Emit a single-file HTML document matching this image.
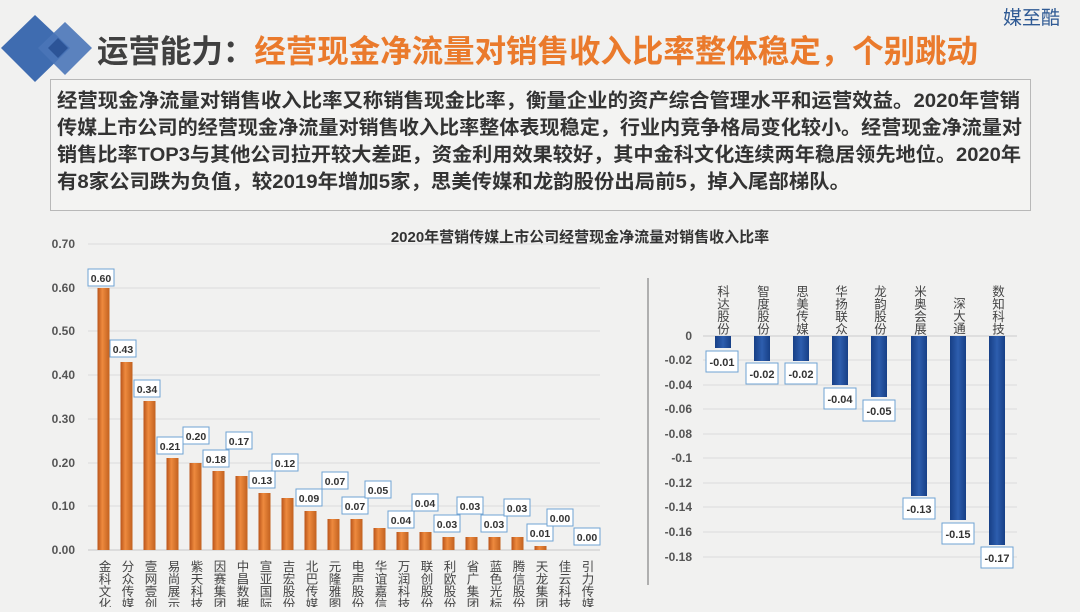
<!DOCTYPE html>
<html><head><meta charset="utf-8">
<style>
html,body{margin:0;padding:0;}
body{width:1080px;height:607px;overflow:hidden;background:#f1f1f0;font-family:"Liberation Sans","Noto Sans CJK SC",sans-serif;}
svg text{font-family:"Liberation Sans","Noto Sans CJK SC",sans-serif;}
.v{writing-mode:vertical-rl;}
</style></head><body>
<svg width="1080" height="607" viewBox="0 0 1080 607" xmlns="http://www.w3.org/2000/svg">
<defs>
<linearGradient id="og" x1="0" x2="1" y1="0" y2="0"><stop offset="0" stop-color="#b9541a"/><stop offset="0.4" stop-color="#ee8a3e"/><stop offset="1" stop-color="#c2611f"/></linearGradient>
<linearGradient id="bg" x1="0" x2="1" y1="0" y2="0"><stop offset="0" stop-color="#173f86"/><stop offset="0.5" stop-color="#2d5eae"/><stop offset="1" stop-color="#173f86"/></linearGradient>
</defs>
<rect width="1080" height="607" fill="#f1f1f0"/>
<polygon points="35,15 70,48 35,82 1,48" fill="#3f6cb0"/>
<polygon points="65,22 92,48 65,75 38,48" fill="#4a76b8" opacity="0.9"/>
<polygon points="58,38 68,48 58,58 48,48" fill="#2c5497"/>
<text x="97" y="62" font-size="31.5" font-weight="bold" fill="#404040" textLength="881" lengthAdjust="spacingAndGlyphs">运营能力：<tspan fill="#ea7a2c">经营现金净流量对销售收入比率整体稳定，个别跳动</tspan></text>
<text x="1003" y="24" font-size="19" fill="#2f5a94">媒至酷</text>
<rect x="50.5" y="79.5" width="980" height="131" fill="#f3f3f2" stroke="#b8b8b8"/>
<g font-size="19.5" font-weight="bold" fill="#333">
<text x="57" y="107" textLength="963" lengthAdjust="spacingAndGlyphs">经营现金净流量对销售收入比率又称销售现金比率，衡量企业的资产综合管理水平和运营效益。2020年营销</text>
<text x="57" y="134" textLength="965" lengthAdjust="spacingAndGlyphs">传媒上市公司的经营现金净流量对销售收入比率整体表现稳定，行业内竞争格局变化较小。经营现金净流量对</text>
<text x="57" y="161" textLength="964" lengthAdjust="spacingAndGlyphs">销售比率TOP3与其他公司拉开较大差距，资金利用效果较好，其中金科文化连续两年稳居领先地位。2020年</text>
<text x="57" y="188" textLength="793" lengthAdjust="spacingAndGlyphs">有8家公司跌为负值，较2019年增加5家，思美传媒和龙韵股份出局前5，掉入尾部梯队。</text>
</g>
<text x="580" y="242" font-size="15" font-weight="bold" fill="#333" text-anchor="middle">2020年营销传媒上市公司经营现金净流量对销售收入比率</text>
<g stroke="#dcdcdc" stroke-width="1">
<line x1="88" x2="600" y1="244" y2="244"/><line x1="88" x2="600" y1="288" y2="288"/><line x1="88" x2="600" y1="331" y2="331"/><line x1="88" x2="600" y1="375" y2="375"/><line x1="88" x2="600" y1="419" y2="419"/><line x1="88" x2="600" y1="463" y2="463"/><line x1="88" x2="600" y1="506" y2="506"/>
</g>
<line x1="88" x2="600" y1="550" y2="550" stroke="#c8c8c8"/>
<g font-size="12" font-weight="bold" fill="#555" text-anchor="end">
<text x="75" y="248">0.70</text><text x="75" y="292">0.60</text><text x="75" y="335">0.50</text><text x="75" y="379">0.40</text><text x="75" y="423">0.30</text><text x="75" y="467">0.20</text><text x="75" y="510">0.10</text><text x="75" y="554">0.00</text>
</g>
<g fill="url(#og)">
<rect x="97.5" y="288" width="12" height="262"/>
<rect x="120.5" y="362" width="12" height="188"/>
<rect x="143.5" y="401" width="12" height="149"/>
<rect x="166.5" y="458" width="12" height="92"/>
<rect x="189.5" y="463" width="12" height="87"/>
<rect x="212.5" y="471" width="12" height="79"/>
<rect x="235.5" y="476" width="12" height="74"/>
<rect x="258.5" y="493" width="12" height="57"/>
<rect x="281.5" y="498" width="12" height="52"/>
<rect x="304.5" y="511" width="12" height="39"/>
<rect x="327.5" y="519" width="12" height="31"/>
<rect x="350.5" y="519" width="12" height="31"/>
<rect x="373.5" y="528" width="12" height="22"/>
<rect x="396.5" y="532" width="12" height="18"/>
<rect x="419.5" y="532" width="12" height="18"/>
<rect x="442.5" y="537" width="12" height="13"/>
<rect x="465.5" y="537" width="12" height="13"/>
<rect x="488.5" y="537" width="12" height="13"/>
<rect x="511.5" y="537" width="12" height="13"/>
<rect x="534.5" y="546" width="12" height="4"/>
</g>
<g font-size="10.5" font-weight="bold" fill="#333" text-anchor="middle">
<g stroke="#6fa3d3" fill="#fff"><rect x="88" y="269" width="26" height="17"/><rect x="110" y="340" width="26" height="17"/><rect x="134" y="380" width="26" height="17"/><rect x="157" y="437" width="26" height="17"/><rect x="183" y="427" width="26" height="17"/><rect x="203" y="450" width="26" height="17"/><rect x="226" y="432" width="26" height="17"/><rect x="249" y="471" width="26" height="17"/><rect x="272" y="454" width="26" height="17"/><rect x="296" y="489" width="26" height="17"/><rect x="322" y="472" width="26" height="17"/><rect x="342" y="497" width="26" height="17"/><rect x="365" y="481" width="26" height="17"/><rect x="388" y="511" width="26" height="17"/><rect x="412" y="494" width="26" height="17"/><rect x="434" y="515" width="26" height="17"/><rect x="457" y="497" width="26" height="17"/><rect x="481" y="515" width="26" height="17"/><rect x="504" y="499" width="26" height="17"/><rect x="527" y="524" width="26" height="17"/><rect x="547" y="509" width="26" height="17"/><rect x="574" y="528" width="26" height="17"/></g>
<text x="101" y="282">0.60</text><text x="123" y="353">0.43</text><text x="147" y="393">0.34</text><text x="170" y="450">0.21</text><text x="196" y="440">0.20</text><text x="216" y="463">0.18</text><text x="239" y="445">0.17</text><text x="262" y="484">0.13</text><text x="285" y="467">0.12</text><text x="309" y="502">0.09</text><text x="335" y="485">0.07</text><text x="355" y="510">0.07</text><text x="378" y="494">0.05</text><text x="401" y="524">0.04</text><text x="425" y="507">0.04</text><text x="447" y="528">0.03</text><text x="470" y="510">0.03</text><text x="494" y="528">0.03</text><text x="517" y="512">0.03</text><text x="540" y="537">0.01</text><text x="560" y="522">0.00</text><text x="587" y="541">0.00</text>
</g>
<g font-size="12.5" fill="#444">
<text class="v" x="103.5" y="560">金科文化</text><text class="v" x="126.5" y="560">分众传媒</text><text class="v" x="149.5" y="560">壹网壹创</text><text class="v" x="172.5" y="560">易尚展示</text><text class="v" x="195.5" y="560">紫天科技</text><text class="v" x="218.5" y="560">因赛集团</text><text class="v" x="241.5" y="560">中昌数据</text><text class="v" x="264.5" y="560">宣亚国际</text><text class="v" x="287.5" y="560">吉宏股份</text><text class="v" x="310.5" y="560">北巴传媒</text><text class="v" x="333.5" y="560">元隆雅图</text><text class="v" x="356.5" y="560">电声股份</text><text class="v" x="379.5" y="560">华谊嘉信</text><text class="v" x="402.5" y="560">万润科技</text><text class="v" x="425.5" y="560">联创股份</text><text class="v" x="448.5" y="560">利欧股份</text><text class="v" x="471.5" y="560">省广集团</text><text class="v" x="494.5" y="560">蓝色光标</text><text class="v" x="517.5" y="560">腾信股份</text><text class="v" x="540.5" y="560">天龙集团</text><text class="v" x="563.5" y="560">佳云科技</text><text class="v" x="586.5" y="560">引力传媒</text>
</g>
<line x1="648" x2="648" y1="278" y2="585" stroke="#999" stroke-width="1.5"/>
<g stroke="#dcdcdc"><line x1="703" x2="1017" y1="360" y2="360"/><line x1="703" x2="1017" y1="385" y2="385"/><line x1="703" x2="1017" y1="409" y2="409"/><line x1="703" x2="1017" y1="434" y2="434"/><line x1="703" x2="1017" y1="458" y2="458"/><line x1="703" x2="1017" y1="483" y2="483"/><line x1="703" x2="1017" y1="507" y2="507"/><line x1="703" x2="1017" y1="532" y2="532"/><line x1="703" x2="1017" y1="557" y2="557"/></g>
<line x1="703" x2="1017" y1="336" y2="336" stroke="#ccc"/>
<g font-size="12" font-weight="bold" fill="#555" text-anchor="end">
<text x="692" y="340">0</text><text x="692" y="364">-0.02</text><text x="692" y="389">-0.04</text><text x="692" y="413">-0.06</text><text x="692" y="438">-0.08</text><text x="692" y="462">-0.1</text><text x="692" y="487">-0.12</text><text x="692" y="511">-0.14</text><text x="692" y="536">-0.16</text><text x="692" y="561">-0.18</text>
</g>
<g fill="url(#bg)">
<rect x="715" y="336" width="16" height="12"/><rect x="754" y="336" width="16" height="25"/><rect x="793" y="336" width="16" height="25"/><rect x="832" y="336" width="16" height="49"/><rect x="871" y="336" width="16" height="61"/><rect x="911" y="336" width="16" height="160"/><rect x="950" y="336" width="16" height="184"/><rect x="989" y="336" width="16" height="209"/>
</g>
<g stroke="#6fa3d3" fill="#fff"><rect x="706" y="351" width="32" height="21"/><rect x="746" y="363" width="32" height="21"/><rect x="785" y="363" width="32" height="21"/><rect x="824" y="388" width="32" height="21"/><rect x="863" y="400" width="32" height="21"/><rect x="903" y="498" width="32" height="21"/><rect x="942" y="523" width="32" height="21"/><rect x="981" y="547" width="32" height="21"/></g>
<g font-size="11" font-weight="bold" fill="#333" text-anchor="middle">
<text x="722" y="366">-0.01</text><text x="762" y="378">-0.02</text><text x="801" y="378">-0.02</text><text x="840" y="403">-0.04</text><text x="879" y="415">-0.05</text><text x="919" y="513">-0.13</text><text x="958" y="538">-0.15</text><text x="997" y="562">-0.17</text>
</g>
<g font-size="12.5" fill="#444">
<text class="v" x="722" y="285">科达股份</text><text class="v" x="762" y="285">智度股份</text><text class="v" x="801" y="285">思美传媒</text><text class="v" x="840" y="285">华扬联众</text><text class="v" x="879" y="285">龙韵股份</text><text class="v" x="919" y="285">米奥会展</text><text class="v" x="958" y="297">深大通</text><text class="v" x="997" y="285">数知科技</text>
</g>
</svg>
</body></html>
